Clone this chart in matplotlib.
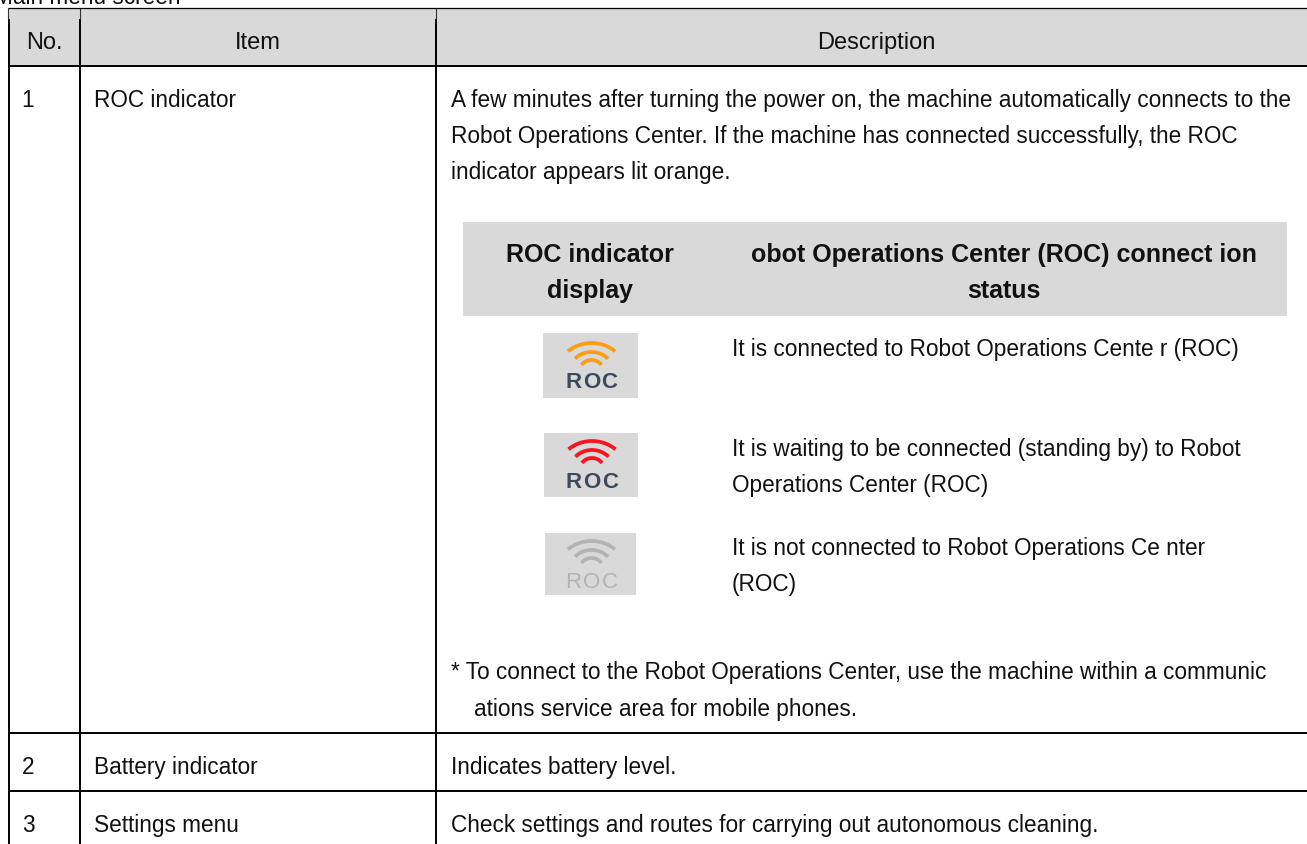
import numpy as np
import matplotlib
matplotlib.use('Agg')
import matplotlib.pyplot as plt
from matplotlib.patches import Rectangle

plt.rcParams['font.family'] = ['Liberation Sans', 'DejaVu Sans']

W, H = 1307, 845
TXT = '#111111'
GREY = '#d9d9d9'

# table contents
header = ['No.', 'Item', 'Description']
numbers = ['1', '2', '3']
items = ['ROC indicator', 'Battery indicator', 'Settings menu']
intro = ['A few minutes after turning the power on, the machine automatically connects to the',
         'Robot Operations Center. If the machine has connected successfully, the ROC',
         'indicator appears lit orange.']
inner_head_left = ['ROC indicator', 'display']
inner_head_right = ['obot Operations Center (ROC) connect ion', 'status']
status_text = [['It is connected to Robot Operations Cente r (ROC)'],
               ['It is waiting to be connected (standing by) to Robot', 'Operations Center (ROC)'],
               ['It is not connected to Robot Operations Ce nter', '(ROC)']]
note = ['* To connect to the Robot Operations Center, use the machine within a communic',
        'ations service area for mobile phones.']
descriptions = ['Indicates battery level.',
                'Check settings and routes for carrying out autonomous cleaning.']
icon_colors = ['#fd9e12', '#f8141e', '#b4b4b4']
icon_text_colors = ['#3c4a5c', '#3c4a5c', '#b4b4b4']

fig = plt.figure(figsize=(W / 100, H / 100), dpi=100)
ax = fig.add_axes([0, 0, 1, 1])
ax.set_xlim(0, W)
ax.set_ylim(H, 0)
ax.axis('off')

FS = 16.25

# grey areas
ax.add_patch(Rectangle((8, 9), W - 8, 58, fc=GREY, ec='none'))
ax.add_patch(Rectangle((463, 223), 824, 94, fc=GREY, ec='none'))

# grid lines, thin at the very top of the header
for x in [8.5, 80, 436]:
    ax.plot([x, x], [20, H], color='black', lw=1.4, solid_capstyle='butt')
    ax.plot([x - 0.5, x - 0.5], [9, 20], color='#333333', lw=0.8, solid_capstyle='butt')
ax.plot([8, W], [8.5, 8.5], color='black', lw=0.9, solid_capstyle='butt')
for y in [67, 734, 792]:
    ax.plot([8, W], [y, y], color='black', lw=1.4, solid_capstyle='butt')

# caption, cut off by the top edge
ax.text(-6, 4, 'Main menu screen', fontsize=FS, color=TXT, va='baseline')

# header row
for txt, x in zip(header, [44.5, 258, 876]):
    ax.text(x, 49, txt, fontsize=17, color=TXT, ha='center', va='baseline')

# left columns
for num, item, y in zip(numbers, items, [107, 774, 832]):
    ax.text(28, y, num, fontsize=FS, color=TXT, ha='center', va='baseline')
    ax.text(94, y, item, fontsize=FS, color=TXT, va='baseline')

# description of row 1
for line, y in zip(intro, [107, 143, 179]):
    ax.text(451, y, line, fontsize=FS, color=TXT, va='baseline')

# inner table header
for line, y in zip(inner_head_left, [262, 298]):
    ax.text(590, y, line, fontsize=18, fontweight='bold', color=TXT, ha='center', va='baseline')
for line, y in zip(inner_head_right, [262, 298]):
    ax.text(1004, y, line, fontsize=18, fontweight='bold', color=TXT, ha='center', va='baseline')

# status rows
for lines, y0 in zip(status_text, [356, 456, 555]):
    for k, line in enumerate(lines):
        ax.text(732, y0 + k * 36.5, line, fontsize=FS, color=TXT, va='baseline')

# ROC icons: box, three arcs (chord, sagitta, drop below the top arc), letters
icon_boxes = [(543, 334, 95, 65), (544, 434, 94, 64), (545, 534, 91, 62)]
arc_top = [10, 8, 8]
arc_chord = [47, 33, 20]
arc_sag = [8.3, 6.7, 5]
arc_drop = [0, 9, 17]
for (x0, y0, w, h), col, tcol, off in zip(icon_boxes, icon_colors, icon_text_colors, arc_top):
    ax.add_patch(Rectangle((x0, y0), w, h, fc=GREY, ec='none'))
    cx = x0 + w / 2 + 1
    for c, s, d in zip(arc_chord, arc_sag, arc_drop):
        r = (c * c / 4 + s * s) / (2 * s)
        half = np.arcsin(c / 2 / r)
        t = np.linspace(-half, half, 40)
        ax.plot(cx + r * np.sin(t), y0 + off + d + r - r * np.cos(t),
                color=col, lw=2.7, solid_capstyle='butt')
    for ch, dx in zip('ROC', [-18, 0, 18]):
        ax.text(cx + dx, y0 + 54.5, ch, fontsize=16,
                fontweight='normal' if tcol == '#b4b4b4' else 'bold',
                color=tcol, ha='center', va='baseline')

# note
ax.text(451, 679, note[0], fontsize=FS, color=TXT, va='baseline')
ax.text(474, 716, note[1], fontsize=FS, color=TXT, va='baseline')

# rows 2, 3
for line, y in zip(descriptions, [774, 832]):
    ax.text(451, y, line, fontsize=FS, color=TXT, va='baseline')

fig.savefig('out.png', dpi=100)
